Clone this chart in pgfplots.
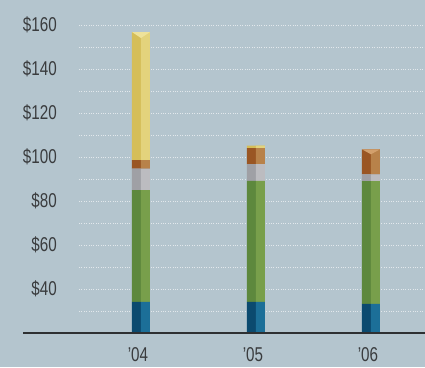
\documentclass[border=0pt]{standalone}
\usepackage{pgfplots}
\pgfplotsset{compat=1.18}
\usepackage{fontspec}
\setmainfont[FakeStretch=0.76]{Liberation Sans}

\definecolor{bg}{HTML}{B4C5CE}
\definecolor{gridc}{HTML}{E2E8EC}
\definecolor{txt}{HTML}{3A3C3E}
\definecolor{blueD}{HTML}{0B4A6F}
\definecolor{blueL}{HTML}{1C6F98}
\definecolor{greenD}{HTML}{5D883D}
\definecolor{greenL}{HTML}{789F4B}
\definecolor{grayD}{HTML}{9FA0A5}
\definecolor{grayL}{HTML}{BCBCC0}
\definecolor{brownD}{HTML}{9A5623}
\definecolor{brownL}{HTML}{B8824A}
\definecolor{yelD}{HTML}{D5BE58}
\definecolor{yelL}{HTML}{E3D37C}
\definecolor{yelCap}{HTML}{EEE29A}
\definecolor{brownCap}{HTML}{D3A06C}

% Stacked values per year (segments stack from zero)
\pgfplotstableread{
x blue green gray brown yellow
0 34.2 50.8 9.7 3.9 58.2
1 34.2 55.0 7.6 7.2 1.2
2 33.2 55.8 3.1 11.4 0.0
}\costs

\pgfplotsset{
  base/.style={
    at={(79pt,34pt)}, anchor=south west,
    scale only axis, width=346pt, height=330pt,
    xmin=-0.539, xmax=2.47, ymin=20, ymax=170,
    ybar stacked, bar width=18pt,
    axis line style={draw=none},
    major tick length=0pt, minor tick length=0pt,
    /pgf/number format/assume math mode=true,
    tick label style={font=\fontsize{20}{20}\selectfont, text=txt},
  },
}

\begin{document}
\begin{tikzpicture}
\useasboundingbox (0,0) rectangle (425pt,367pt);
\fill[bg] (0,0) rectangle (425pt,367pt);

% dark (left) faces, grid and labels
\begin{axis}[base,
  ytick={40,60,...,160},
  minor ytick={30,50,...,150},
  yticklabel={\$\pgfmathprintnumber{\tick}},
  yticklabel style={anchor=east, inner sep=0pt, xshift=-22pt},
  ymajorgrids, yminorgrids,
  major grid style={gridc, dotted, line width=0.8pt},
  minor grid style={gridc, dotted, line width=0.8pt},
  xtick={0,1,2},
  xticklabels={’04,’05,’06},
  xticklabel style={anchor=north, inner sep=0pt, yshift=-14pt, xshift=-3pt},
  clip=false,
]
\addplot[fill=blueD, draw=none] table[x=x, y=blue] {\costs};
\addplot[fill=greenD, draw=none] table[x=x, y=green] {\costs};
\addplot[fill=grayD, draw=none] table[x=x, y=gray] {\costs};
\addplot[fill=brownD, draw=none] table[x=x, y=brown] {\costs};
\addplot[fill=yelD, draw=none] table[x=x, y=yellow] {\costs};
\coordinate (top04) at (axis cs:0,156.8);
\coordinate (top06) at (axis cs:2,103.5);
\end{axis}

% light (right) faces
\begin{axis}[base, bar width=9pt, bar shift=4.5pt,
  xtick=\empty, ytick=\empty]
\addplot[fill=blueL, draw=none] table[x=x, y=blue] {\costs};
\addplot[fill=greenL, draw=none] table[x=x, y=green] {\costs};
\addplot[fill=grayL, draw=none] table[x=x, y=gray] {\costs};
\addplot[fill=brownL, draw=none] table[x=x, y=brown] {\costs};
\addplot[fill=yelL, draw=none] table[x=x, y=yellow] {\costs};
\end{axis}

% bevelled tops of the tallest segments
\fill[yelCap] ([xshift=-9pt]top04) -- ([xshift=9pt]top04) -- ([yshift=-6pt]top04) -- cycle;
\fill[brownCap] ([xshift=-9pt]top06) -- ([xshift=9pt]top06) -- ([yshift=-5pt]top06) -- cycle;

% baseline
\draw[txt!80!black, line width=1.3pt] (23pt,34pt) -- (425pt,34pt);
\end{tikzpicture}
\end{document}
